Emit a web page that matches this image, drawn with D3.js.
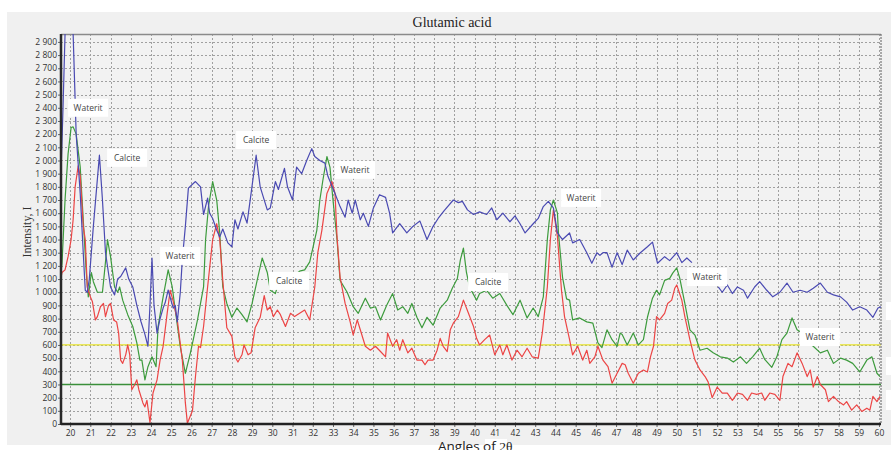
<!DOCTYPE html>
<html>
<head>
<meta charset="utf-8">
<script src="https://cdn.jsdelivr.net/npm/d3@7/dist/d3.min.js"></script>
<style>
  html, body { margin: 0; padding: 0; background: #ffffff; }
  svg { display: block; }
</style>
</head>
<body>
<svg id="chart" width="891" height="450"></svg>
<script>
// Diffraction scans, [angle 2θ, intensity]
const scanBlue = [
  [19.55,1900],[19.65,2400],[19.75,2960],[19.95,3400],[20.15,2960],[20.3,2200],[20.5,1750],[20.65,1300],
  [20.75,1015],[20.85,1000],[20.95,1100],[21.15,1500],[21.45,2040],[21.6,1700],[21.75,1300],[22.0,1040],
  [22.2,980],[22.35,1100],[22.5,1120],[22.75,1185],[22.9,1100],[23.1,1040],[23.3,900],[23.5,780],
  [23.7,680],[23.85,590],[23.95,900],[24.05,1260],[24.15,900],[24.3,690],[24.45,800],[24.6,880],
  [24.7,920],[24.85,1017],[24.95,960],[25.1,880],[25.2,900],[25.3,775],[25.45,1000],[25.55,1250],
  [25.7,1500],[25.85,1790],[26.05,1820],[26.2,1840],[26.45,1800],[26.6,1590],[26.8,1715],[26.9,1600],
  [27.05,1560],[27.25,1470],[27.4,1420],[27.55,1480],[27.8,1375],[28.0,1345],[28.15,1550],[28.3,1480],
  [28.55,1610],[28.75,1525],[28.95,1750],[29.2,2040],[29.4,1800],[29.75,1625],[29.9,1640],[30.15,1840],
  [30.3,1780],[30.6,1940],[30.75,1800],[31.0,1700],[31.2,1950],[31.45,1900],[31.7,2000],[31.95,2090],
  [32.1,2030],[32.35,2000],[32.6,1980],[32.75,1880],[33.1,1750],[33.35,1650],[33.6,1570],[33.75,1700],
  [33.95,1600],[34.1,1700],[34.35,1550],[34.5,1600],[34.75,1500],[35.0,1640],[35.3,1740],[35.6,1720],
  [35.8,1600],[35.95,1450],[36.3,1520],[36.65,1450],[36.95,1500],[37.3,1540],[37.65,1400],[37.95,1500],
  [38.2,1560],[38.5,1620],[38.95,1700],[39.2,1680],[39.4,1690],[39.65,1625],[39.95,1590],[40.25,1610],
  [40.6,1590],[40.85,1640],[41.1,1550],[41.4,1600],[41.75,1535],[42.0,1580],[42.25,1520],[42.5,1450],
  [42.9,1520],[43.15,1560],[43.4,1650],[43.65,1690],[43.9,1640],[44.1,1450],[44.35,1400],[44.7,1450],
  [44.85,1375],[45.2,1400],[45.55,1300],[45.8,1220],[46.05,1300],[46.2,1280],[46.35,1300],[46.55,1300],
  [46.8,1190],[47.05,1300],[47.3,1210],[47.55,1320],[47.85,1245],[48.2,1300],[48.55,1345],[48.8,1380],
  [49.05,1220],[49.4,1270],[49.65,1240],[50.0,1300],[50.25,1225],[50.5,1260],[50.75,1225],
  [51.4,null],
  [52.05,1040],[52.25,1000],[52.5,1055],[52.75,990],[53.0,1040],[53.3,1015],[53.5,955],[53.85,1040],
  [54.1,1080],[54.45,1015],[54.75,965],[55.1,1000],[55.45,1070],[55.75,1000],[56.1,1015],[56.45,1000],
  [56.75,1030],[57.1,1070],[57.45,1000],[57.75,980],[58.1,965],[58.4,925],[58.7,865],[59.05,890],
  [59.4,865],[59.7,810],[59.95,880],[60.1,890]
];

const scanGreen = [
  [19.55,1150],[19.6,1220],[19.75,1700],[19.9,2050],[20.05,2250],[20.15,2255],[20.3,2200],[20.5,1950],
  [20.65,1550],[20.8,1150],[20.9,965],[21.05,1150],[21.15,1080],[21.35,1000],[21.6,1000],[21.75,1230],
  [21.85,1400],[22.0,1270],[22.2,1040],[22.35,1000],[22.45,1040],[22.6,940],[22.85,830],[23.1,740],
  [23.3,615],[23.45,485],[23.55,485],[23.7,335],[23.85,435],[24.05,510],[24.25,435],[24.35,740],
  [24.6,965],[24.85,1170],[25.05,1040],[25.2,865],[25.45,585],[25.7,385],[25.95,540],[26.3,790],
  [26.6,1040],[26.7,1400],[26.85,1660],[27.05,1840],[27.25,1700],[27.4,1450],[27.55,1040],[27.75,915],
  [28.0,810],[28.25,880],[28.5,830],[28.75,775],[29.0,915],[29.25,1090],[29.5,1260],[29.75,1150],
  [29.9,1015],[30.15,990],[30.4,1120],[30.75,1150],[31.1,1130],[31.35,1160],[31.6,1170],[31.85,1230],
  [32.2,1470],[32.35,1700],[32.5,1850],[32.7,2030],[32.85,1950],[33.0,1700],[33.2,1400],[33.35,1090],
  [33.7,1000],[34.0,890],[34.25,840],[34.6,955],[34.85,880],[35.1,890],[35.35,790],[35.65,900],
  [35.95,990],[36.2,865],[36.45,890],[36.7,840],[36.9,915],[37.15,810],[37.4,730],[37.65,810],
  [37.95,750],[38.3,880],[38.65,940],[38.9,1030],[39.15,1105],[39.3,1245],[39.45,1335],[39.6,1150],
  [39.75,1040],[40.1,940],[40.25,990],[40.6,1015],[40.9,955],[41.25,990],[41.6,900],[41.9,830],
  [42.25,940],[42.6,805],[42.9,880],[43.15,815],[43.4,965],[43.6,1400],[43.75,1625],[43.9,1700],
  [44.1,1600],[44.15,1450],[44.35,1115],[44.55,950],[44.7,940],[44.85,790],[45.2,805],[45.55,775],
  [45.85,765],[46.1,615],[46.3,580],[46.55,715],[46.8,640],[47.05,590],[47.2,690],[47.3,680],
  [47.55,600],[47.85,690],[48.1,600],[48.35,640],[48.55,810],[48.8,955],[49.0,1015],[49.15,980],
  [49.4,1090],[49.65,1105],[49.8,1145],[50.0,1185],[50.15,1105],[50.4,915],[50.65,715],[50.9,675],
  [51.15,560],[51.5,575],[51.8,540],[52.15,510],[52.5,500],[52.8,470],[53.15,510],[53.45,460],
  [53.75,510],[54.1,575],[54.35,490],[54.7,430],[54.95,510],[55.2,640],[55.45,690],[55.7,805],
  [55.95,715],[56.2,690],[56.5,620],[56.75,590],[57.1,540],[57.45,560],[57.75,460],[58.1,500],
  [58.4,485],[58.7,460],[59.05,395],[59.4,485],[59.65,510],[59.9,385],[60.05,360]
];

const scanRed = [
  [19.55,1110],[19.6,1150],[19.75,1170],[19.9,1270],[20.05,1400],[20.15,1550],[20.25,1800],[20.4,1960],
  [20.5,1880],[20.65,1500],[20.75,1400],[20.85,1040],[21.0,965],[21.1,930],[21.25,790],[21.35,815],
  [21.5,890],[21.65,915],[21.75,815],[21.9,900],[22.0,915],[22.15,790],[22.3,775],[22.4,690],
  [22.5,485],[22.6,460],[22.75,525],[22.85,600],[22.95,525],[23.05,260],[23.2,300],[23.3,335],
  [23.4,260],[23.6,160],[23.7,130],[23.8,180],[23.95,10],[24.1,235],[24.3,335],[24.45,485],
  [24.6,590],[24.8,840],[24.95,1015],[25.1,930],[25.3,790],[25.55,485],[25.7,160],[25.8,5],
  [26.05,100],[26.2,360],[26.35,590],[26.45,580],[26.6,740],[26.8,1040],[27.05,1400],[27.25,1520],
  [27.4,1400],[27.55,1090],[27.75,730],[28.0,665],[28.15,510],[28.3,470],[28.5,525],[28.6,600],
  [28.8,525],[28.95,540],[29.15,730],[29.4,810],[29.6,975],[29.75,865],[29.9,890],[30.05,815],
  [30.25,865],[30.4,830],[30.65,740],[30.9,840],[31.1,815],[31.35,840],[31.6,865],[31.85,790],
  [32.1,1040],[32.25,1300],[32.45,1470],[32.7,1750],[32.95,1840],[33.1,1750],[33.2,1420],[33.35,1115],
  [33.6,915],[33.85,775],[34.0,675],[34.2,790],[34.35,715],[34.6,590],[34.85,560],[35.1,590],
  [35.35,550],[35.6,510],[35.7,690],[35.95,590],[36.15,640],[36.3,560],[36.45,640],[36.7,540],
  [36.9,575],[37.15,485],[37.4,485],[37.55,450],[37.7,485],[37.95,485],[38.15,560],[38.3,650],
  [38.45,590],[38.65,550],[38.8,715],[38.95,765],[39.2,815],[39.45,940],[39.7,840],[39.95,740],
  [40.1,650],[40.25,600],[40.5,640],[40.75,675],[41.0,525],[41.25,600],[41.4,525],[41.6,600],
  [41.85,485],[42.1,560],[42.35,510],[42.6,575],[42.85,510],[43.15,500],[43.35,690],[43.6,1040],
  [43.75,1400],[43.9,1625],[44.1,1420],[44.3,1015],[44.45,815],[44.7,640],[44.85,525],[45.1,590],
  [45.35,485],[45.55,560],[45.7,460],[45.95,510],[46.1,590],[46.35,485],[46.6,435],[46.8,310],
  [47.05,385],[47.3,460],[47.45,450],[47.6,385],[47.85,310],[48.1,385],[48.35,410],[48.55,395],
  [48.7,510],[48.85,590],[49.0,815],[49.15,790],[49.4,840],[49.55,915],[49.75,940],[49.9,1030],
  [50.0,1055],[50.25,940],[50.4,815],[50.65,640],[50.9,485],[51.15,410],[51.4,360],[51.55,320],
  [51.75,200],[52.0,280],[52.25,235],[52.5,235],[52.75,180],[53.0,235],[53.25,225],[53.5,180],
  [53.7,235],[53.95,225],[54.2,235],[54.35,180],[54.6,235],[54.85,225],[55.1,180],[55.25,360],
  [55.5,460],[55.7,435],[55.95,540],[56.2,460],[56.45,360],[56.6,410],[56.75,280],[56.95,360],
  [57.1,300],[57.35,260],[57.5,170],[57.75,210],[58.0,170],[58.25,145],[58.4,170],[58.65,105],
  [58.9,145],[59.15,95],[59.4,120],[59.55,105],[59.7,210],[59.9,170],[60.05,210]
];

// Reference intensity levels drawn across the plot
const levelLines = [600, 300];

// Phase labels: [text, angle, intensity]
const phaseLabels = [
  ["Waterit", 20.89, 2400],
  ["Calcite", 22.82, 2020],
  ["Calcite", 29.2, 2156],
  ["Waterit", 25.44, 1276],
  ["Calcite", 30.83, 1086],
  ["Waterit", 34.09, 1929],
  ["Waterit", 45.27, 1716],
  ["Calcite", 40.67, 1078],
  ["Waterit", 51.5, 1116],
  ["Waterit", 57.08, 660]
];

const xTicks = d3.range(20, 61, 1);
const yTicks = d3.range(0, 3000, 100);

const svg = d3.select("#chart");
const W = 891;
const plotL = 61, plotR = 881, plotT = 34, plotB = 424;

// panel background
svg.append("rect").attr("x", 7).attr("y", 12).attr("width", W - 7).attr("height", 433)
  .attr("fill", "#f0f0f0");

const x = d3.scaleLinear().domain([19.55, 60.1]).range([plotL, plotR]);
const y = d3.scaleLinear().domain([0, 2960]).range([plotB, plotT]);

svg.append("rect").attr("x", plotL).attr("y", plotT).attr("width", plotR - plotL).attr("height", plotB - plotT)
  .attr("fill", "#f2f2f2");

// title
svg.append("text").attr("x", 452).attr("y", 27).attr("text-anchor", "middle")
  .attr("font-family", "'Liberation Serif', 'Times New Roman', serif").attr("font-size", 14)
  .attr("fill", "#222").text("Glutamic acid");

// grid
const grid = svg.append("g").attr("stroke", "#a0a0a0").attr("stroke-width", 1)
  .attr("stroke-dasharray", "2,2").attr("shape-rendering", "crispEdges");
grid.selectAll("line.v").data(xTicks).join("line")
  .attr("x1", d => Math.round(x(d)) + 0.5).attr("x2", d => Math.round(x(d)) + 0.5)
  .attr("y1", plotT).attr("y2", plotB);
grid.selectAll("line.h").data(yTicks.filter(d => d > 0)).join("line")
  .attr("x1", plotL).attr("x2", plotR)
  .attr("y1", d => Math.round(y(d)) + 0.5).attr("y2", d => Math.round(y(d)) + 0.5);

// reference levels
const levelColors = ["#e6e22a", "#3a8f3a"];
svg.selectAll("line.level").data(levelLines).join("line")
  .attr("x1", plotL).attr("x2", plotR)
  .attr("y1", d => y(d)).attr("y2", d => y(d))
  .attr("stroke", (d, i) => levelColors[i]).attr("stroke-width", (d, i) => i ? 1.4 : 1.2);

// axes
const fmt = d3.formatLocale({ decimal: ".", thousands: " ", grouping: [3], currency: ["", ""] }).format(",d");
const yAxis = d3.axisLeft(y).tickValues(yTicks).tickSize(3).tickFormat(fmt);
const gy = svg.append("g").attr("transform", `translate(${plotL},0)`).call(yAxis);
gy.select(".domain").remove();
gy.selectAll("line").attr("stroke", "#666");
gy.selectAll("text").attr("font-family", "'Open Sans', sans-serif").attr("font-size", 8.5)
  .attr("fill", "#333").attr("x", -4);

const xAxis = d3.axisBottom(x).tickValues(xTicks).tickSize(3).tickFormat(d3.format("d"));
const gx = svg.append("g").attr("transform", `translate(0,${plotB})`).call(xAxis);
gx.select(".domain").remove();
gx.selectAll("line").attr("stroke", "#666");
gx.selectAll("text").attr("font-family", "'Open Sans', sans-serif").attr("font-size", 8.5)
  .attr("fill", "#333").attr("y", 6);

// frame
svg.append("line").attr("x1", plotL).attr("x2", plotR).attr("y1", plotT + 0.5).attr("y2", plotT + 0.5)
  .attr("stroke", "#8a8a8a").attr("stroke-width", 1.5);
svg.append("line").attr("x1", plotR).attr("x2", plotR).attr("y1", plotT).attr("y2", plotB)
  .attr("stroke", "#777").attr("stroke-width", 1.2).attr("stroke-dasharray", "2,1");

// scans
svg.append("clipPath").attr("id", "plotClip").append("rect")
  .attr("x", plotL).attr("y", plotT).attr("width", plotR - plotL).attr("height", plotB - plotT);
const line = d3.line().defined(d => d[1] !== null).x(d => x(d[0])).y(d => y(d[1]));
const scans = [
  { data: scanGreen, color: "#3d9b3d" },
  { data: scanRed, color: "#ec4545" },
  { data: scanBlue, color: "#4a4ab2" }
];
svg.append("g").attr("clip-path", "url(#plotClip)")
  .selectAll("path").data(scans).join("path")
  .attr("d", d => line(d.data)).attr("fill", "none")
  .attr("stroke", d => d.color).attr("stroke-width", 1.2).attr("stroke-linejoin", "round");

svg.append("line").attr("x1", plotL).attr("x2", plotL).attr("y1", plotT).attr("y2", plotB + 1)
  .attr("stroke", "#2a2a2a").attr("stroke-width", 2.5);
svg.append("line").attr("x1", plotL).attr("x2", plotR).attr("y1", plotB).attr("y2", plotB)
  .attr("stroke", "#222").attr("stroke-width", 2.5);

// axis titles
svg.append("text").attr("transform", "translate(31,232) rotate(-90)").attr("text-anchor", "middle")
  .attr("font-family", "'Liberation Serif', 'Times New Roman', serif").attr("font-size", 12)
  .attr("fill", "#333").text("Intensity, I");

svg.append("rect").attr("x", 485).attr("y", 439).attr("width", 22).attr("height", 11).attr("fill", "#ffffff");
const xt = svg.append("text").attr("x", 438).attr("y", 451)
  .attr("font-family", "'Open Sans', sans-serif").attr("font-size", 13.5).attr("fill", "#222");
xt.append("tspan").text("Angles of ");
xt.append("tspan").attr("font-family", "'Liberation Serif', serif").text("2θ");

// phase labels
const lab = svg.append("g").selectAll("g").data(phaseLabels).join("g")
  .attr("transform", d => `translate(${x(d[1])},${y(d[2])})`);
lab.append("rect").attr("x", -20).attr("y", -9).attr("width", 40).attr("height", 18).attr("fill", "#ffffff");
lab.append("text").attr("text-anchor", "middle").attr("dy", "0.35em")
  .attr("font-family", "'Open Sans', sans-serif").attr("font-size", 8.5).attr("fill", "#444")
  .text(d => d[0]);

// label boxes running off the right edge
svg.selectAll("rect.edge").data([[302, 18], [357, 18], [390, 20]]).join("rect")
  .attr("x", 886).attr("y", d => d[0]).attr("width", 5).attr("height", d => d[1]).attr("fill", "#ffffff");
</script>
</body>
</html>
